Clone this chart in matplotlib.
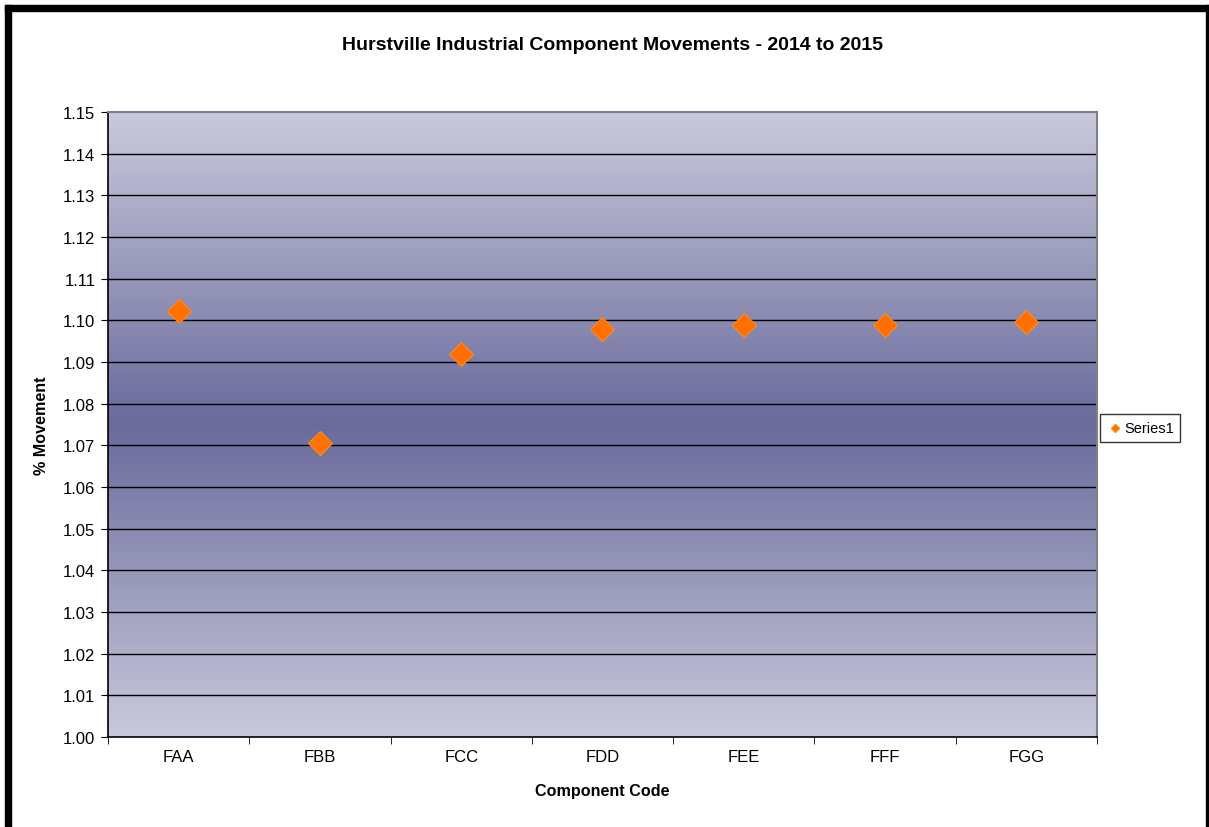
import matplotlib
matplotlib.use("Agg")
import matplotlib.pyplot as plt
import numpy as np
from matplotlib.colors import LinearSegmentedColormap
from matplotlib.patches import Rectangle

categories = ["FAA", "FBB", "FCC", "FDD", "FEE", "FFF", "FGG"]
values = [1.1022, 1.0706, 1.0920, 1.0980, 1.0990, 1.0990, 1.0996]
yticks = [1.00 + 0.01 * i for i in range(16)]

plt.rcParams['font.family'] = ['Liberation Sans', 'DejaVu Sans']

W, H = 1209, 828
fig = plt.figure(figsize=(W / 100, H / 100), dpi=100)
fig.patch.set_facecolor("white")

# black border (top & left thick, right thin)
fig.add_artist(Rectangle((5 / W, 0), 6 / W, 1 - 6 / H, transform=fig.transFigure, color="black"))
fig.add_artist(Rectangle((5 / W, 1 - 12 / H), (W - 5) / W, 6 / H, transform=fig.transFigure, color="black"))
fig.add_artist(Rectangle((1206 / W, 0), 3 / W, 1 - 6 / H, transform=fig.transFigure, color="black"))

left, right, top, bottom = 108, 1097, 113, 738
ax = fig.add_axes([left / W, 1 - bottom / H, (right - left) / W, (bottom - top) / H])

# gradient background
cmap = LinearSegmentedColormap.from_list("g", [(0, "#c9c9dd"), (0.5, "#6a6a9c"), (1, "#c9c9dd")])
grad = np.linspace(0, 1, 256).reshape(-1, 1)
ax.imshow(grad, cmap=cmap, aspect="auto", extent=[-0.5, 6.5, 1.0, 1.15], origin="lower", zorder=0)

x = np.arange(len(categories))
ax.set_xlim(-0.5, len(categories) - 0.5)
ax.set_ylim(1.00, 1.15)
for yv in yticks[1:-1]:
    ax.axhline(yv, color="black", lw=1.0, zorder=1)

ax.scatter(x, values, marker="D", s=150, color="#ff7000", edgecolors="#ff8c1a", linewidths=0.8, zorder=3, label="Series1")

ax.set_yticks(yticks)
ax.set_yticklabels([f"{v:.2f}" for v in yticks], fontsize=12)
ax.set_xticks(x)
ax.set_xticklabels(categories, fontsize=12)
ax.set_xticks(np.arange(-0.5, len(categories)), minor=True)
ax.tick_params(axis="x", which="major", length=0, pad=9)
ax.tick_params(axis="x", which="minor", length=5, direction="out")
ax.tick_params(axis="y", length=5, direction="out", pad=4)

for s in ["left", "bottom"]:
    ax.spines[s].set_color("black")
    ax.spines[s].set_linewidth(1.2)
for s in ["top", "right"]:
    ax.spines[s].set_color("#808080")
    ax.spines[s].set_linewidth(1.5)

ax.set_xlabel("Component Code", fontsize=11.6, fontweight="bold", labelpad=13)
ax.set_ylabel("% Movement", fontsize=11.6, fontweight="bold", labelpad=10)
fig.text(612 / W, 1 - 46 / H, "Hurstville Industrial Component Movements - 2014 to 2015",
         fontsize=14, fontweight="bold", ha="center", va="center")

leg = fig.legend(handles=[ax.collections[0]], labels=["Series1"], loc="center left",
                 bbox_to_anchor=(1100 / W, 1 - 429 / H), fontsize=10.5, frameon=True, fancybox=False,
                 edgecolor="black", markerscale=0.35, handletextpad=0.1, borderpad=0.45,
                 handlelength=1.1, borderaxespad=0)
leg.get_frame().set_linewidth(1.0)

fig.savefig("out.png", dpi=100)
